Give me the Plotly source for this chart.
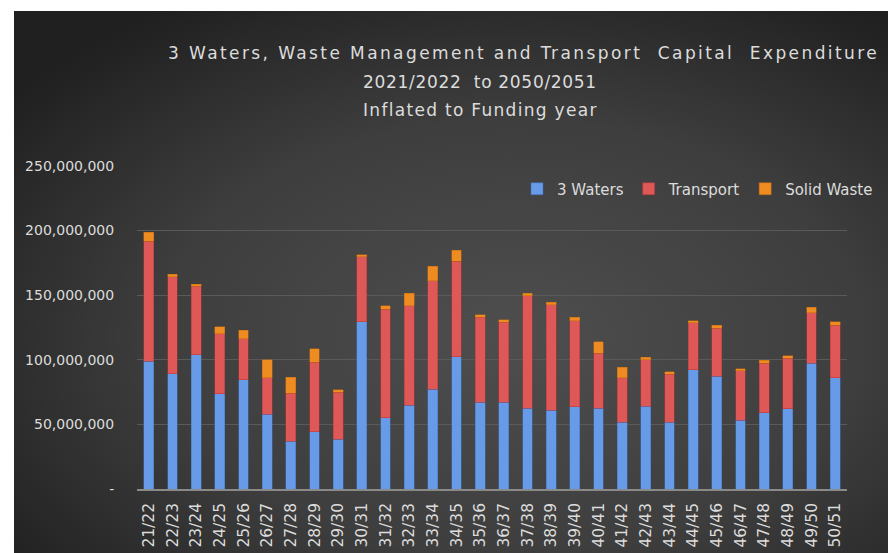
import base64
import plotly.graph_objects as go

categories = ["21/22", "22/23", "23/24", "24/25", "25/26", "26/27", "27/28", "28/29", "29/30", "30/31",
              "31/32", "32/33", "33/34", "34/35", "35/36", "36/37", "37/38", "38/39", "39/40", "40/41",
              "41/42", "42/43", "43/44", "44/45", "45/46", "46/47", "47/48", "48/49", "49/50", "50/51"]

waters_m = [99.0, 89.1, 103.9, 73.6, 84.5, 57.8, 37.0, 44.3, 38.3, 129.3,
            55.2, 64.8, 77.1, 102.4, 67.1, 67.1, 62.4, 61.1, 63.5, 62.4,
            51.6, 64.1, 51.8, 92.2, 87.2, 53.1, 59.1, 62.0, 97.1, 86.2]
transport_m = [92.5, 75.1, 53.1, 46.6, 31.8, 28.2, 37.1, 53.6, 36.6, 50.5,
               83.9, 77.1, 84.1, 73.6, 65.8, 61.9, 87.2, 81.3, 66.8, 42.6,
               34.6, 35.9, 37.0, 36.2, 37.3, 38.3, 38.3, 39.0, 39.4, 40.4]
solid_m = [6.9, 1.8, 1.3, 5.2, 6.5, 14.0, 12.4, 10.4, 1.8, 1.5,
           2.5, 9.5, 10.9, 8.5, 2.0, 2.0, 1.8, 2.1, 2.6, 9.0,
           7.8, 2.1, 1.8, 1.8, 2.3, 1.8, 2.1, 1.9, 4.1, 2.6]

waters = [v * 1e6 for v in waters_m]
transport = [v * 1e6 for v in transport_m]
solid = [v * 1e6 for v in solid_m]

tick_vals = [0, 50e6, 100e6, 150e6, 200e6, 250e6]
tick_text = ["-", "50,000,000", "100,000,000", "150,000,000", "200,000,000", "250,000,000"]

W, H = 888, 553
L, R, T, B = 137, 41, 165, 64
PW, PH = W - L - R, H - T - B


def px_to_paper_x(px):
    return (px - L) / PW


def px_to_paper_y(py):
    return (H - B - py) / PH


svg = ("<svg xmlns='http://www.w3.org/2000/svg' width='874' height='542'>"
       "<defs><radialGradient id='g' cx='0.57' cy='0.6' r='0.72' gradientUnits='objectBoundingBox'>"
       "<stop offset='0' stop-color='#4e4e4e'/><stop offset='0.55' stop-color='#3e3e3e'/>"
       "<stop offset='1' stop-color='#202020'/></radialGradient></defs>"
       "<rect width='874' height='542' fill='url(#g)'/></svg>")
src = "data:image/svg+xml;base64," + base64.b64encode(svg.encode()).decode()

fig = go.Figure()
fig.add_trace(go.Bar(name="3 Waters", x=categories, y=waters,
                     marker=dict(color="#679be8", line=dict(color="#3f6fb8", width=0.5))))
fig.add_trace(go.Bar(name="Transport", x=categories, y=transport,
                     marker=dict(color="#de5858", line=dict(color="#b33333", width=0.5))))
fig.add_trace(go.Bar(name="Solid Waste", x=categories, y=solid,
                     marker=dict(color="#ee8c22", line=dict(color="#c06a10", width=0.5))))

txt = "#dcdcdc"
fig.update_layout(
    width=W, height=H,
    margin=dict(l=L, r=R, t=T, b=B, pad=0, autoexpand=False),
    barmode="stack", bargap=0.58,
    paper_bgcolor="white", plot_bgcolor="rgba(0,0,0,0)",
    font=dict(family="DejaVu Sans", color=txt, size=14),
    showlegend=True,
    legend=dict(orientation="h", x=px_to_paper_x(878), y=px_to_paper_y(189),
                xanchor="right", yanchor="middle", bgcolor="rgba(0,0,0,0)",
                font=dict(family="DejaVu Sans", size=15, color=txt),
                itemwidth=30, traceorder="normal"),
    images=[dict(source=src, xref="paper", yref="paper",
                 x=px_to_paper_x(14), y=px_to_paper_y(11),
                 sizex=874 / PW, sizey=542 / PH, sizing="stretch",
                 xanchor="left", yanchor="top", layer="below")],
    xaxis=dict(type="category", tickangle=-90, showgrid=False, showline=True,
               linecolor="#8a8a8a", linewidth=1.5, ticks="outside", ticklen=6,
               tickcolor="rgba(0,0,0,0)", tickfont=dict(size=15.5, color=txt),
               range=[-0.5, len(categories) - 0.5]),
    yaxis=dict(range=[0, 250.6e6], tickvals=tick_vals, ticktext=tick_text,
               showgrid=True, gridcolor="#5a5a5a", gridwidth=1, zeroline=False,
               showline=False, ticks="outside", ticklen=19, tickcolor="rgba(0,0,0,0)",
               tickfont=dict(size=14, color=txt)),
    annotations=[
        dict(text="<span style='letter-spacing:2.4px'>3 Waters, Waste Management and Transport&nbsp; Capital&nbsp; Expenditure</span>",
             xref="paper", yref="paper", x=px_to_paper_x(166), y=px_to_paper_y(53),
             xanchor="left", yanchor="middle", showarrow=False,
             font=dict(family="DejaVu Sans", size=17, color=txt)),
        dict(text="<span style='letter-spacing:0.7px'>2021/2022&nbsp;&nbsp;to 2050/2051</span>",
             xref="paper", yref="paper", x=px_to_paper_x(480), y=px_to_paper_y(82),
             xanchor="center", yanchor="middle", showarrow=False,
             font=dict(family="DejaVu Sans", size=17, color=txt)),
        dict(text="<span style='letter-spacing:1.3px'>Inflated to Funding year</span>",
             xref="paper", yref="paper", x=px_to_paper_x(480), y=px_to_paper_y(110),
             xanchor="center", yanchor="middle", showarrow=False,
             font=dict(family="DejaVu Sans", size=17, color=txt)),
    ],
)

fig.write_html("out.html", config={"displayModeBar": False},
               post_script="document.body.style.margin='0';")
